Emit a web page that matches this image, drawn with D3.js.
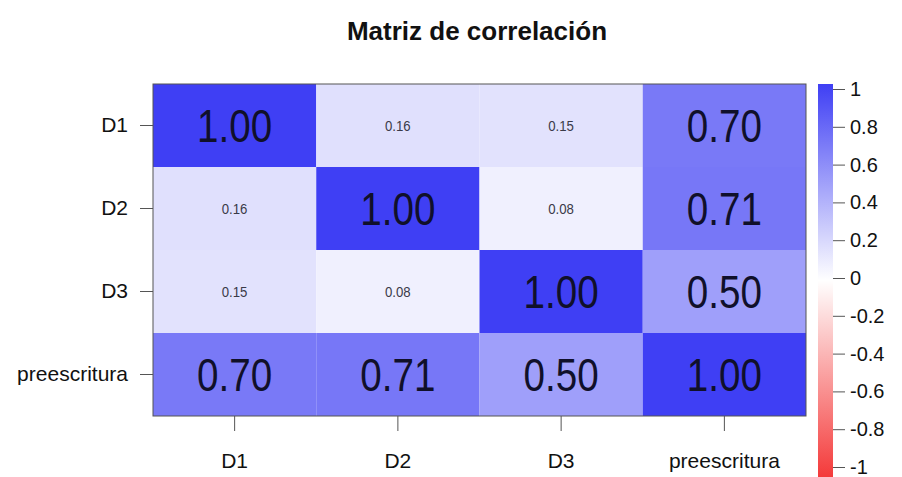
<!DOCTYPE html>
<html>
<head>
<meta charset="utf-8">
<script src="https://cdn.jsdelivr.net/npm/d3@7"></script>
<style>
body { margin: 0; background: #fff; overflow: hidden; }
text { font-family: "Liberation Sans", Arial, sans-serif; }
</style>
</head>
<body>
<div id="graphic"></div>
<script>
var variables = ["D1", "D2", "D3", "preescritura"];
var corr = [
	[1.00, 0.16, 0.15, 0.70],
	[0.16, 1.00, 0.08, 0.71],
	[0.15, 0.08, 1.00, 0.50],
	[0.70, 0.71, 0.50, 1.00]
];
var legendTicks = [1, 0.8, 0.6, 0.4, 0.2, 0, -0.2, -0.4, -0.6, -0.8, -1];
var chartTitle = "Matriz de correlación";

var width = 902, height = 477;
var plot = { left: 153, top: 84, right: 806, bottom: 416 };
var labelFont = "'Liberation Sans', Arial, sans-serif";

var svg = d3.select("#graphic").append("svg")
	.attr("width", width)
	.attr("height", height);

var x = d3.scaleBand().domain(variables).range([plot.left, plot.right]);
var y = d3.scaleBand().domain(variables).range([plot.top, plot.bottom]);

// colour scale red - white - blue
var z = d3.scaleLinear()
	.domain([-1, 0, 1])
	.range(["#f43a3a", "#ffffff", "#3f3ff4"]);

// title
svg.append("text")
	.attr("x", 477)
	.attr("y", 40)
	.attr("text-anchor", "middle")
	.style("font-size", "26px")
	.style("font-weight", "bold")
	.style("fill", "#111")
	.text(chartTitle);

// cells
var cells = [];
corr.forEach(function(row, i) {
	row.forEach(function(v, j) {
		cells.push({ row: variables[i], col: variables[j], value: v });
	});
});

svg.selectAll("rect.cell")
	.data(cells)
	.enter()
	.append("rect")
	.attr("class", "cell")
	.attr("x", function(d) { return x(d.col); })
	.attr("y", function(d) { return y(d.row); })
	.attr("width", x.bandwidth())
	.attr("height", y.bandwidth())
	.attr("fill", function(d) { return z(d.value); });

var big = function(d) { return Math.abs(d.value) >= 0.5; };

// numbers drawn narrow (condensed horizontally)
svg.selectAll("text.val")
	.data(cells)
	.enter()
	.append("text")
	.attr("class", "val")
	.attr("transform", function(d) {
		var cx = x(d.col) + x.bandwidth() / 2;
		var cy = y(d.row) + y.bandwidth() / 2;
		return "translate(" + cx + "," + cy + ") scale(" + (big(d) ? 0.84 : 0.88) + ",1)";
	})
	.attr("dy", "0.36em")
	.attr("text-anchor", "middle")
	.style("font-size", function(d) { return big(d) ? "46px" : "15px"; })
	.style("fill", function(d) { return big(d) ? "#10102a" : "#3a3a48"; })
	.text(function(d) { return d.value.toFixed(2); });

// box
svg.append("rect")
	.attr("x", plot.left)
	.attr("y", plot.top)
	.attr("width", plot.right - plot.left)
	.attr("height", plot.bottom - plot.top)
	.attr("fill", "none")
	.attr("stroke", "#555")
	.attr("stroke-width", 1);

// axes
var xAxis = d3.axisBottom(x).tickSize(15).tickPadding(22);
var yAxis = d3.axisLeft(y).tickSize(13).tickPadding(12);

var gx = svg.append("g")
	.attr("transform", "translate(0," + plot.bottom + ")")
	.call(xAxis);
var gy = svg.append("g")
	.attr("transform", "translate(" + plot.left + ",0)")
	.call(yAxis);

[gx, gy].forEach(function(g) {
	g.select(".domain").remove();
	g.selectAll(".tick line").attr("stroke", "#555");
	g.selectAll(".tick text")
		.style("font-size", "21px")
		.style("fill", "#111")
		.style("font-family", labelFont);
});

// colour legend
var ly = d3.scaleLinear().domain([-1, 1]).range([467, 89]);

var defs = svg.append("defs");
var grad = defs.append("linearGradient")
	.attr("id", "legendGrad")
	.attr("x1", 0).attr("y1", 1)
	.attr("x2", 0).attr("y2", 0);
grad.selectAll("stop")
	.data([-1, 0, 1])
	.enter()
	.append("stop")
	.attr("offset", function(d) { return (d + 1) / 2; })
	.attr("stop-color", function(d) { return z(d); });

svg.append("rect")
	.attr("x", 818)
	.attr("y", 84)
	.attr("width", 15)
	.attr("height", 393)
	.attr("fill", "url(#legendGrad)");

var legendAxis = d3.axisRight(ly)
	.tickValues(legendTicks)
	.tickFormat(function(d) { return d3.format("")(d).replace("−", "-"); })
	.tickSize(12)
	.tickPadding(5);

var gl = svg.append("g")
	.attr("transform", "translate(833,0)")
	.call(legendAxis);
gl.select(".domain").remove();
gl.selectAll(".tick line").attr("stroke", "#555");
gl.selectAll(".tick text")
	.style("font-size", "20px")
	.style("fill", "#111")
	.style("font-family", labelFont);
</script>
</body>
</html>
